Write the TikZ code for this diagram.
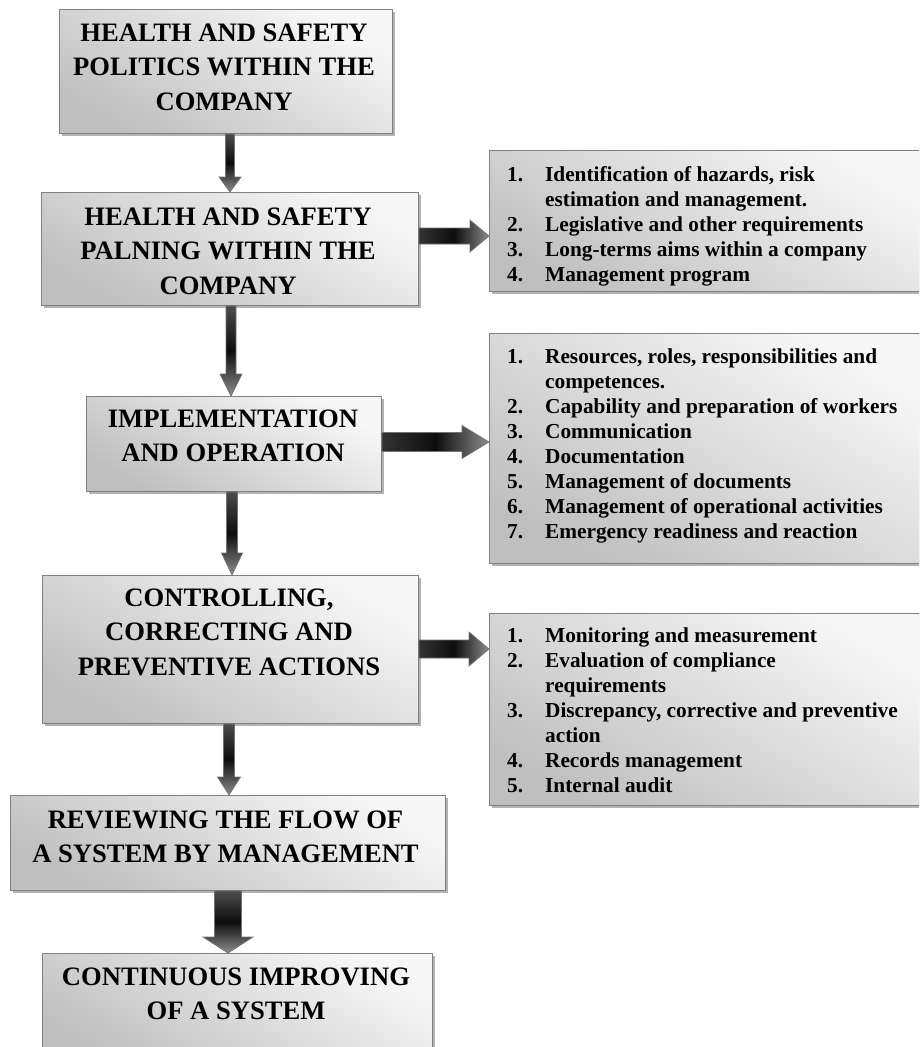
\documentclass[tikz,border=0pt]{standalone}
\usepackage{fontspec}
\setmainfont{Liberation Serif}
\usetikzlibrary{shadows,calc}
% vertical block arrow: style, from, to, shaft half-width, head half-width, head length
\newcommand\vblock[6]{\path[#1] let \p1=(#2), \p2=(#3) in
  (\x1-#4,\y1) -- (\x1+#4,\y1) -- (\x1+#4,\y2+#6) -- (\x1+#5,\y2+#6) -- (\x1,\y2)
  -- (\x1-#5,\y2+#6) -- (\x1-#4,\y2+#6) -- cycle;}
% horizontal block arrow
\newcommand\hblock[6]{\path[#1] let \p1=(#2), \p2=(#3) in
  (\x1,\y1+#4) -- (\x2-#6,\y1+#4) -- (\x2-#6,\y1+#5) -- (\x2,\y1) -- (\x2-#6,\y1-#5)
  -- (\x2-#6,\y1-#4) -- (\x1,\y1-#4) -- cycle;}
\begin{document}
\begin{tikzpicture}[x=1pt,y=-1pt,
  box/.style={draw=black!50, line width=0.9pt, top color=black!3, bottom color=black!25,
    shading angle=-30, inner sep=0, anchor=north west,
    drop shadow={shadow xshift=2.5pt, shadow yshift=-2.5pt, fill=black, opacity=0.3}},
  mtext/.style={font=\fontsize{26.6}{34.5}\selectfont\bfseries, inner sep=0, anchor=base},
  ltext/.style={font=\fontsize{21.3}{25}\selectfont\bfseries, inner sep=0, anchor=base west},
  varrow/.style={top color=black!70, bottom color=black!45, middle color=black!95,
    draw=black!55, line width=0.7pt},
  harrow/.style={left color=black!80, right color=black!45, middle color=black!95,
    draw=black!55, line width=0.7pt}]
\useasboundingbox (0,0) rectangle (919,1047);
\clip (0,0) rectangle (919,1047);

% main boxes
\node[box, minimum width=333pt, minimum height=124pt] (b1) at (59,9) {};
\node[box, minimum width=377pt, minimum height=113pt] (b2) at (41,192) {};
\node[box, minimum width=295pt, minimum height=95pt]  (b3) at (86,396) {};
\node[box, minimum width=376pt, minimum height=148pt] (b4) at (42,575) {};
\node[box, minimum width=435pt, minimum height=95pt]  (b5) at (10,795) {};
\node[box, minimum width=390pt, minimum height=110pt] (b6) at (42,953) {};
% side boxes
\node[box, minimum width=436pt, minimum height=141pt] (r1) at (489,150) {};
\node[box, minimum width=436pt, minimum height=230pt] (r2) at (489,333) {};
\node[box, minimum width=436pt, minimum height=192pt] (r3) at (489,613) {};

% main texts
\node[mtext] (t1) at (224,41) {\begin{tabular}[t]{@{}c@{}}HEALTH AND SAFETY\\POLITICS WITHIN THE\\COMPANY\end{tabular}};
\node[mtext] (t2) at (228,225) {\begin{tabular}[t]{@{}c@{}}HEALTH AND SAFETY\\PALNING WITHIN THE\\COMPANY\end{tabular}};
\node[mtext] (t3) at (233,427) {\begin{tabular}[t]{@{}c@{}}IMPLEMENTATION\\AND OPERATION\end{tabular}};
\node[mtext] (t4) at (229,606) {\begin{tabular}[t]{@{}c@{}}CONTROLLING,\\CORRECTING AND\\PREVENTIVE ACTIONS\end{tabular}};
\node[mtext] (t5) at (225.5,828) {\begin{tabular}[t]{@{}c@{}}REVIEWING THE FLOW OF\\A SYSTEM BY MANAGEMENT\end{tabular}};
\node[mtext] (t6) at (236,985) {\begin{tabular}[t]{@{}c@{}}CONTINUOUS IMPROVING\\OF A SYSTEM\end{tabular}};

% side texts
\node[ltext] (s1) at (507,181) {\begin{tabular}[t]{@{}l@{\hspace{22pt}}l@{}}
1. & Identification of hazards, risk\\
   & estimation and management.\\
2. & Legislative and other requirements\\
3. & Long-terms aims within a company\\
4. & Management program\end{tabular}};
\node[ltext] (s2) at (507,363) {\begin{tabular}[t]{@{}l@{\hspace{22pt}}l@{}}
1. & Resources, roles, responsibilities and\\
   & competences.\\
2. & Capability and preparation of workers\\
3. & Communication\\
4. & Documentation\\
5. & Management of documents\\
6. & Management of operational activities\\
7. & Emergency readiness and reaction\end{tabular}};
\node[ltext] (s3) at (507,642) {\begin{tabular}[t]{@{}l@{\hspace{22pt}}l@{}}
1. & Monitoring and measurement\\
2. & Evaluation of compliance\\
   & requirements\\
3. & Discrepancy, corrective and preventive\\
   & action\\
4. & Records management\\
5. & Internal audit\end{tabular}};

% arrow axes
\coordinate (ax1) at (230,0);
\coordinate (ax2) at (231,0);
\coordinate (ax3) at (232,0);
\coordinate (ax4) at (229,0);
\coordinate (ax5) at (228,0);
\coordinate (ay1) at (0,236);
\coordinate (ay2) at (0,442);
\coordinate (ay3) at (0,649);

% vertical arrows
\vblock{varrow}{b1.south -| ax1}{b2.north -| ax1}{4.5pt}{11pt}{15pt}
\vblock{varrow}{b2.south -| ax2}{b3.north -| ax2}{5pt}{11pt}{22pt}
\vblock{varrow}{b3.south -| ax3}{b4.north -| ax3}{5.5pt}{10.5pt}{22pt}
\vblock{varrow}{b4.south -| ax4}{b5.north -| ax4}{5.5pt}{11.5pt}{18pt}
\vblock{varrow}{b5.south -| ax5}{b6.north -| ax5}{13.5pt}{25pt}{16pt}
% horizontal arrows
\hblock{harrow}{b2.east |- ay1}{r1.west |- ay1}{8pt}{16pt}{19pt}
\hblock{harrow}{b3.east |- ay2}{r2.west |- ay2}{9.5pt}{16.5pt}{27pt}
\hblock{harrow}{b4.east |- ay3}{r3.west |- ay3}{9pt}{17pt}{20pt}
\end{tikzpicture}
\end{document}
